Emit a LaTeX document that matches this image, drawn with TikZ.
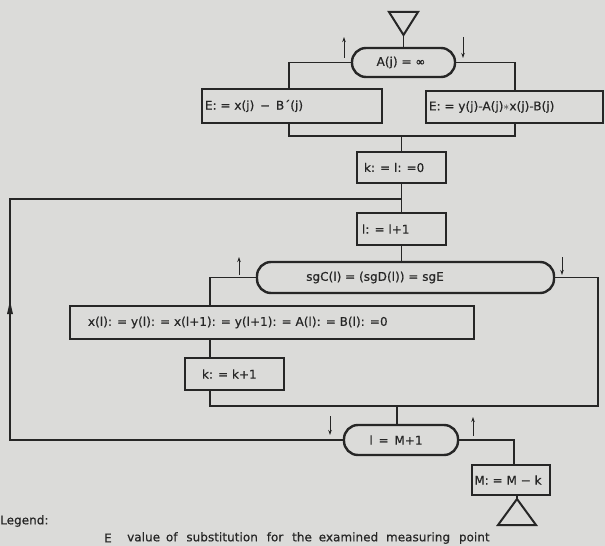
\documentclass[tikz,border=0pt]{standalone}
\usepackage{fontspec}
\setmainfont{DejaVu Sans}[LetterSpace=0.5,FakeBold=0.6]
\usetikzlibrary{arrows.meta}
\definecolor{paper}{RGB}{219,219,217}
\definecolor{ink}{RGB}{38,38,38}
\tikzset{
  blk/.style={draw=ink,line width=2.4bp,inner sep=0pt,rectangle},
  ovl/.style={draw=ink,line width=2.4bp,inner sep=0pt,rectangle,rounded corners=14bp},
  txt/.style={inner sep=0pt,font=\fontsize{12}{14}\selectfont,text=ink},
  con/.style={draw=ink,line width=1.1bp},
  flag/.style={draw=ink,line width=1bp,-{Stealth[length=5bp,width=3.5bp]}},
  trig/.style={draw=ink,line width=2bp,line join=miter},
}
\begin{document}
\begin{tikzpicture}[x=1bp,y=-1bp]
\fill[paper] (0,0) rectangle (605,546);
\useasboundingbox (0,0) rectangle (605,546);

% start triangle
\draw[trig] (389,12) -- (418,12) -- (403.5,35) -- cycle;
\coordinate (t1) at (403.5,35);

% test A(j)
\node[ovl,minimum width=103bp,minimum height=29bp] (ovA) at (403.5,62.5) {};
\node[txt] (tA) at (401,62.5) {A(j) = ∞};
\draw[con] (t1) -- (ovA.north);

\node[blk,minimum width=180bp,minimum height=34bp] (E1) at (292,106) {};
\node[txt,anchor=west] (tE1) at ([xshift=4bp]E1.west) {E: = x(j)\, −\, B´(j)};
\node[blk,minimum width=177bp,minimum height=32bp] (E2) at (514.5,107) {};
\node[txt,anchor=west] (tE2) at ([xshift=4bp]E2.west) {E: = y(j)-A(j)$\ast$x(j)-B(j)};

\coordinate (bl) at (289,62.5);
\coordinate (br) at (515,62.5);
\coordinate (jl) at (289,136);
\coordinate (jr) at (515,136);
\draw[con] (ovA.west) -- (bl) -- (bl |- E1.north);
\draw[con] (ovA.east) -- (br) -- (br |- E2.north);
\draw[con] (bl |- E1.south) -- (jl) -- (jr) -- (br |- E2.south);
\coordinate (aA1) at (344,58); \coordinate (aA2) at (344,37);
\coordinate (aA3) at (463,37); \coordinate (aA4) at (463,58);
\draw[flag] (aA1) -- (aA2);
\draw[flag] (aA3) -- (aA4);

\node[blk,minimum width=89bp,minimum height=31bp] (k0) at (401.5,167.5) {};
\node[txt,anchor=west] (tk0) at ([xshift=8bp]k0.west) {k: = l: =0};
\draw[con] (k0.north |- jl) -- (k0.north);

\node[blk,minimum width=89bp,minimum height=32bp] (l1) at (401.5,229) {};
\node[txt,anchor=west] (tl1) at ([xshift=6bp]l1.west) {l: = l+1};
\draw[con] (k0.south) -- (l1.north);

\node[ovl,minimum width=297bp,minimum height=31bp] (sg) at (405.5,277.5) {};
\node[txt] (tsg) at (375,277.5) {sgC(l) = (sgD(l)) = sgE};
\draw[con] (l1.south) -- (l1.south |- sg.north);

\node[blk,minimum width=404bp,minimum height=33bp] (xl) at (272,322.5) {};
\node[txt,anchor=west] (txl) at ([xshift=19bp]xl.west) {x(l): = y(l): = x(l+1): = y(l+1): = A(l): = B(l): =0};

\node[blk,minimum width=99bp,minimum height=32bp] (kk) at (234.5,374) {};
\node[txt,anchor=west] (tkk) at ([xshift=18bp]kk.west) {k: = k+1};

\coordinate (sl) at (210,277.5);
\coordinate (sr) at (598,277.5);
\coordinate (jbl) at (210,406);
\coordinate (jbr) at (598,406);
\draw[con] (sg.west) -- (sl) -- (sl |- xl.north);
\draw[con] (sl |- xl.south) -- (sl |- kk.north);
\draw[con] (sl |- kk.south) -- (jbl) -- (jbr) -- (sr) -- (sg.east);
\coordinate (aS1) at (239,275); \coordinate (aS2) at (239,257);
\coordinate (aS3) at (562,257); \coordinate (aS4) at (562,275);
\draw[flag] (aS1) -- (aS2);
\draw[flag] (aS3) -- (aS4);

\node[ovl,minimum width=114bp,minimum height=30bp] (ovM) at (401,440) {};
\node[txt] (tM) at (396,440) {l\, =\, M+1};
\coordinate (jc) at (397,406);
\draw[con] (jc) -- (jc |- ovM.north);

% loop back
\coordinate (lp1) at (10,199);
\coordinate (lp2) at (10,440);
\draw[con] (ovM.west) -- (lp2) -- (lp1) -- (k0.south |- lp1);
\fill[ink] (10,301) -- (13,314) -- (7,314) -- cycle;

\coordinate (aM1) at (330,416); \coordinate (aM2) at (330,435);
\coordinate (aM3) at (473,436); \coordinate (aM4) at (473,417);
\draw[flag] (aM1) -- (aM2);
\draw[flag] (aM3) -- (aM4);

\node[blk,minimum width=78bp,minimum height=30bp] (Mb) at (511,480) {};
\node[txt] (tMb) at (508,480) {M: = M − k};
\coordinate (mr) at (514,440);
\draw[con] (ovM.east) -- (mr) -- (mr |- Mb.north);

% end triangle
\coordinate (t2) at (517,499);
\draw[trig] (t2) -- (536,525) -- (498,525) -- cycle;
\draw[con] (t2 |- Mb.south) -- (t2);

% legend
\node[txt,anchor=west] (lg) at (0,521) {Legend:};
\node[txt,anchor=west] (lgE) at (104,538) {E};
\node[txt,anchor=west] (lgT) at (127,538) {value\hspace{2bp} of\hspace{5bp} substitution\hspace{5bp} for\hspace{5bp} the\hspace{3bp} examined\hspace{4bp} measuring\hspace{5bp} point};
\end{tikzpicture}
\end{document}
